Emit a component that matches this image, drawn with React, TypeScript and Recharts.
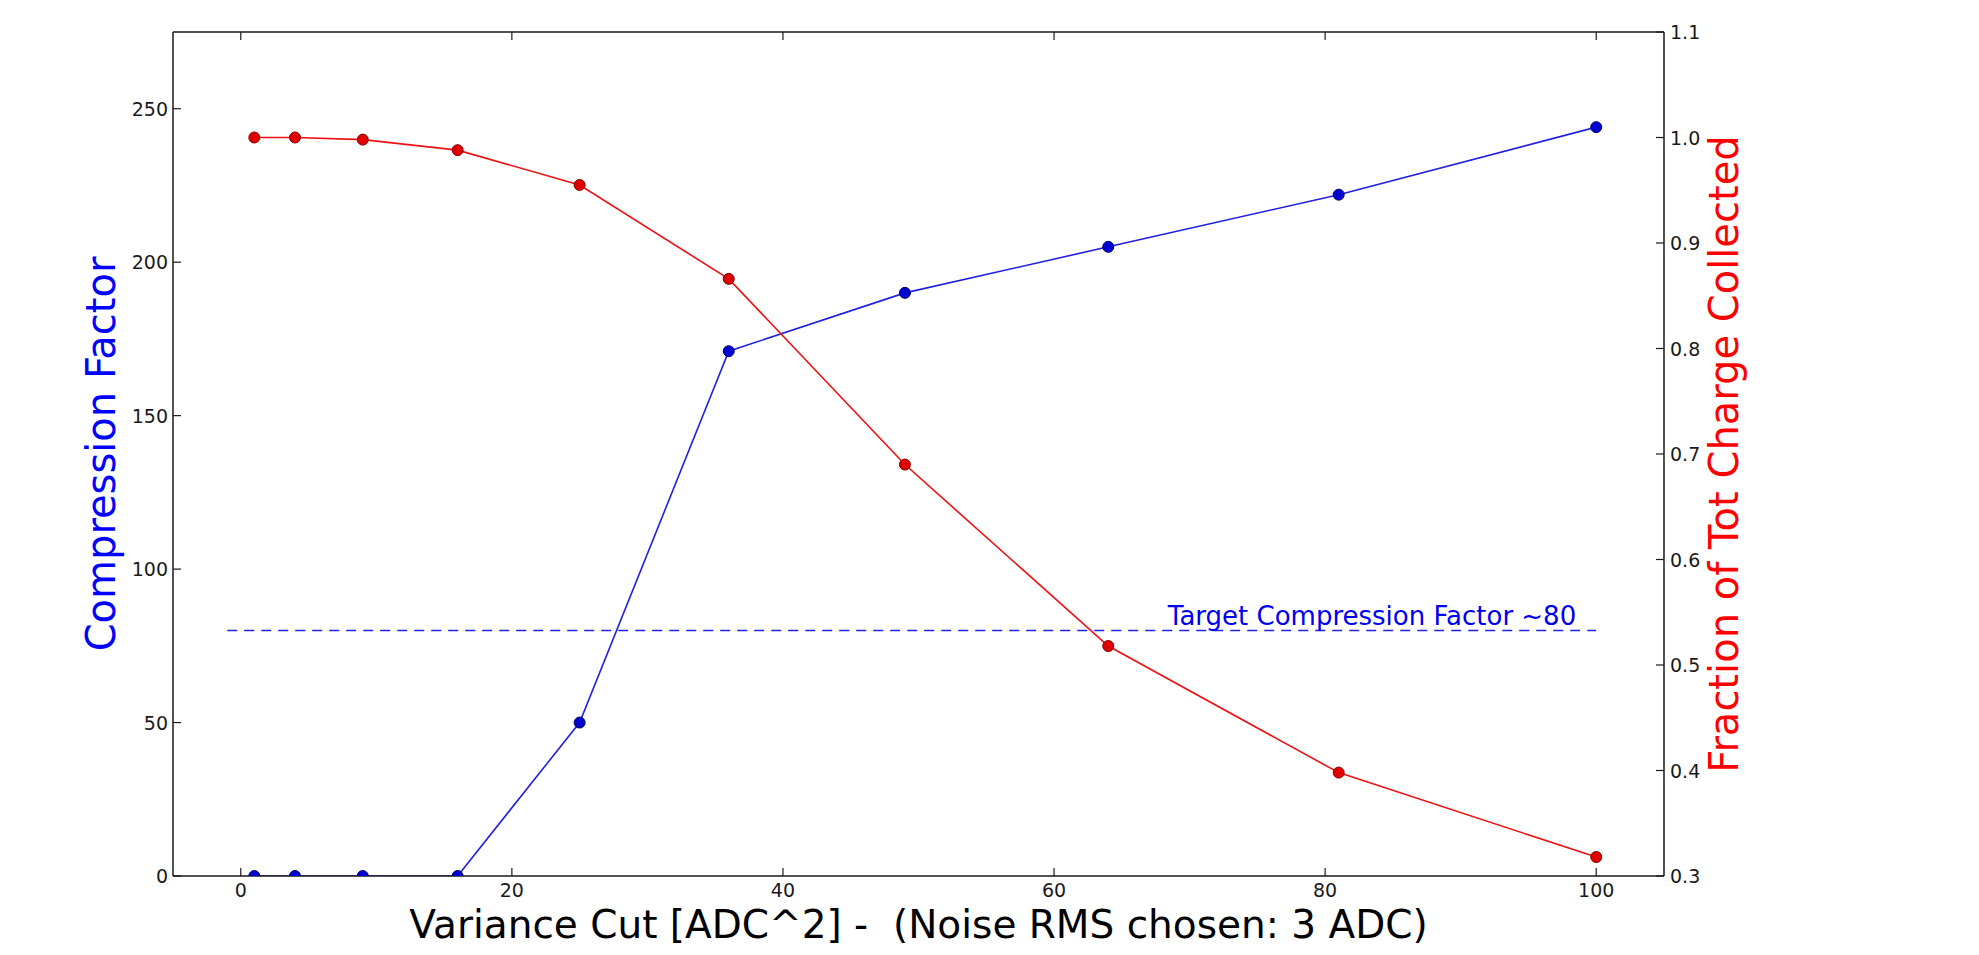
import React from 'react';
import { ComposedChart, Line, XAxis, YAxis, ReferenceLine } from 'recharts';

// variance cut values (ADC^2) and the two measured curves
const cuts = [1, 4, 9, 16, 25, 36, 49, 64, 81, 100];
const compression = [0, 0, 0, 0, 50, 171, 190, 205, 222, 244];
const chargeFraction = [1.0, 1.0, 0.998, 0.988, 0.955, 0.866, 0.69, 0.518, 0.398, 0.318];

const xTicks = [0, 20, 40, 60, 80, 100];
const leftTicks = [0, 50, 100, 150, 200, 250];
const rightTicks = [0.3, 0.4, 0.5, 0.6, 0.7, 0.8, 0.9, 1.0, 1.1];

const targetFactor = 80;
const targetStart = -1;
const targetEnd = 100;
const targetLabel = 'Target Compression Factor ~80';

const xTitle = 'Variance Cut [ADC^2] -  (Noise RMS chosen: 3 ADC)';
const leftTitle = 'Compression Factor';
const rightTitle = 'Fraction of Tot Charge Collected';

const data = cuts.map((c, i) => ({ cut: c, compression: compression[i], fraction: chargeFraction[i] }));

const FONT = '"DejaVu Sans", sans-serif';
const INK = '#1a1a1a';
const TICK = 8;

const LeftTick = ({ x, y, payload }: any) => (
  <g>
    <line x1={x + 5} x2={x + 5 + TICK} y1={y} y2={y} stroke={INK} strokeWidth={1.2} />
    <text x={x} y={y} textAnchor="end" dominantBaseline="central" fontSize={19} fill={INK} fontFamily={FONT}>
      {payload.value}
    </text>
  </g>
);

const RightTick = ({ x, y, payload }: any) => (
  <g>
    <line x1={x - 6} x2={x - 6 - TICK} y1={y} y2={y} stroke={INK} strokeWidth={1.2} />
    <text x={x} y={y} textAnchor="start" dominantBaseline="central" fontSize={19} fill={INK} fontFamily={FONT}>
      {Number(payload.value).toFixed(1)}
    </text>
  </g>
);

const BottomTick = ({ x, y, payload }: any) => (
  <g>
    <line x1={x} x2={x} y1={y - 9} y2={y - 9 - TICK} stroke={INK} strokeWidth={1.2} />
    <text x={x} y={y + 12} textAnchor="middle" fontSize={19} fill={INK} fontFamily={FONT}>
      {payload.value}
    </text>
  </g>
);

const TopTick = ({ x, y }: any) => (
  <line x1={x} x2={x} y1={y} y2={y + TICK} stroke={INK} strokeWidth={1.2} />
);

const LeftTitle = ({ viewBox }: any) => {
  const x = viewBox.x + 2;
  const y = viewBox.y + viewBox.height / 2;
  return (
    <text x={x} y={y} transform={`rotate(-90, ${x}, ${y})`} textAnchor="middle" fontSize={40} fill="#0000ff" fontFamily={FONT}>
      {leftTitle}
    </text>
  );
};

const RightTitle = ({ viewBox }: any) => {
  const x = viewBox.x + 74;
  const y = viewBox.y + viewBox.height / 2;
  return (
    <text x={x} y={y} transform={`rotate(-90, ${x}, ${y})`} textAnchor="middle" fontSize={40} fill="#ff0000" fontFamily={FONT}>
      {rightTitle}
    </text>
  );
};

const BottomTitle = ({ viewBox }: any) => (
  <text
    x={viewBox.x + viewBox.width / 2} y={viewBox.y + 62} textAnchor="middle"
    fontSize={39} fill="#000" fontFamily={FONT} style={{ whiteSpace: 'pre' }}
  >
    {xTitle}
  </text>
);

const TargetText = ({ viewBox }: any) => (
  <text x={viewBox.x + viewBox.width - 20} y={viewBox.y - 5} textAnchor="end" fontSize={26} fill="#0000ee" fontFamily={FONT}>
    {targetLabel}
  </text>
);

export default function App() {
  return (
    <div style={{ position: 'absolute', left: 0, top: 0, width: 1979, height: 955, background: '#fff' }}>
      <ComposedChart width={1979} height={955} data={data} margin={{ top: 2, right: 255, bottom: 0, left: 113 }}>
        <XAxis
          dataKey="cut" type="number" domain={[-5, 105]} ticks={xTicks} allowDataOverflow
          height={79} tickSize={0} tickMargin={9} tickLine={false} tick={<BottomTick />}
          axisLine={{ stroke: INK, strokeWidth: 1.5 }} label={<BottomTitle />}
        />
        <XAxis
          xAxisId="top" orientation="top" dataKey="cut" type="number" domain={[-5, 105]} ticks={xTicks}
          allowDataOverflow height={30} tickSize={0} tickMargin={0} tickLine={false} tick={<TopTick />}
          axisLine={{ stroke: INK, strokeWidth: 1.5 }}
        />
        <YAxis
          yAxisId="left" type="number" domain={[0, 275]} ticks={leftTicks} allowDataOverflow
          width={60} tickSize={0} tickMargin={5} tickLine={false} tick={<LeftTick />}
          axisLine={{ stroke: INK, strokeWidth: 1.5 }} label={<LeftTitle />}
        />
        <YAxis
          yAxisId="right" orientation="right" type="number" domain={[0.3, 1.1]} ticks={rightTicks} allowDataOverflow
          width={60} tickSize={0} tickMargin={6} tickLine={false} tick={<RightTick />}
          axisLine={{ stroke: INK, strokeWidth: 1.5 }} label={<RightTitle />}
        />
        <ReferenceLine
          yAxisId="left"
          segment={[{ x: targetStart, y: targetFactor }, { x: targetEnd, y: targetFactor }]}
          stroke="#2222dd" strokeWidth={1.5} strokeDasharray="10 7"
          label={<TargetText />}
        />
        <Line
          yAxisId="left" dataKey="compression" stroke="#2020e0" strokeWidth={1.6}
          dot={{ r: 5.5, fill: '#0000d0', stroke: '#000066', strokeWidth: 1 }}
          activeDot={false} isAnimationActive={false}
        />
        <Line
          yAxisId="right" dataKey="fraction" stroke="#ee1111" strokeWidth={1.6}
          dot={{ r: 5.5, fill: '#e00000', stroke: '#800000', strokeWidth: 1 }}
          activeDot={false} isAnimationActive={false}
        />
      </ComposedChart>
    </div>
  );
}
